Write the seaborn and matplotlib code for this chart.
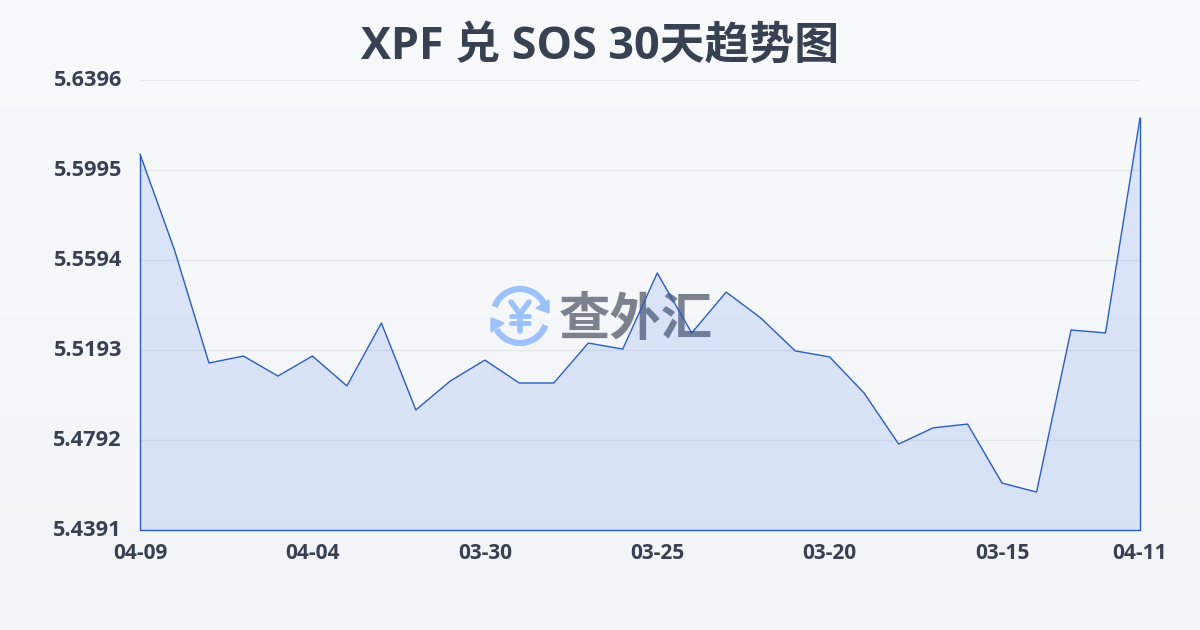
import numpy as np
import pandas as pd
import matplotlib
matplotlib.use("Agg")
import matplotlib.pyplot as plt
from matplotlib.patches import Arc, Polygon
from matplotlib.transforms import ScaledTranslation
import seaborn as sns

title = "XPF 兑 SOS 30天趋势图"
watermark = "查外汇"
day_index = list(range(30))
rates = [5.6066, 5.5639, 5.5135, 5.5166, 5.5077, 5.5166, 5.5033, 5.5313, 5.4926, 5.5055,
         5.5148, 5.5046, 5.5046, 5.5224, 5.5197, 5.5536, 5.5269, 5.5451, 5.5336, 5.5189,
         5.5162, 5.5001, 5.4774, 5.4846, 5.4863, 5.4600, 5.4560, 5.5282, 5.5269, 5.6227]
x_tick_pos = [0, 5, 10, 15, 20, 25, 29]
x_tick_labels = ["04-09", "04-04", "03-30", "03-25", "03-20", "03-15", "04-11"]
y_ticks = [5.4391, 5.4792, 5.5193, 5.5594, 5.5995, 5.6396]

sns.set_theme(style="white")
FONT = ["Open Sans", "Noto Sans CJK SC", "DejaVu Sans"]
plt.rcParams["font.family"] = FONT
INK = "#374151"
LINE = "#2a5cc4"

W, H = 1200, 630
fig = plt.figure(figsize=(W / 100, H / 100), dpi=100)

bg = fig.add_axes([0, 0, 1, 1], zorder=0)
grad = np.linspace(0, 1, 256).reshape(-1, 1)
top, bot = np.array([0xf8, 0xfa, 0xfc]) / 255, np.array([0xf2, 0xf4, 0xf7]) / 255
bg.imshow(top + (bot - top) * grad[..., None], aspect="auto", extent=[0, 1, 0, 1])
bg.axis("off")

ax = fig.add_axes([140 / W, 1 - 530 / H, 1000 / W, 450 / H], zorder=1)
ax.patch.set_alpha(0)
df = pd.DataFrame({"day": day_index, "rate": rates})

ax.set_xlim(0, 29)
ax.set_ylim(y_ticks[0], y_ticks[-1])
ax.set_yticks(y_ticks)
ax.set_yticklabels([f"{v:.4f}" for v in y_ticks], fontsize=15.7, fontweight="bold", color=INK)
ax.set_xticks(x_tick_pos)
ax.set_xticklabels(x_tick_labels, fontsize=15, fontweight="bold", color=INK)
ax.yaxis.grid(True, color="#e5e7eb", lw=1)
ax.xaxis.grid(False)
ax.set_axisbelow(True)
for s in ax.spines.values():
    s.set_visible(False)
ax.tick_params(axis="y", length=0, pad=13)
ax.tick_params(axis="x", length=7.5, width=1, color="#e5e7eb", pad=2)
ax.set_xlabel("")
ax.set_ylabel("")
up = ScaledTranslation(0, 1.5 / 100, fig.dpi_scale_trans)
for lab in ax.get_yticklabels():
    lab.set_transform(lab.get_transform() + up)

ov = fig.add_axes([0, 0, 1, 1], zorder=2)
ov.set_xlim(0, W)
ov.set_ylim(H, 0)
ov.axis("off")
ov.patch.set_alpha(0)
BLUE = "#9dc1fb"
cx, cy = 520, 316
ov.add_patch(Arc((cx, cy), 54, 54, theta1=200, theta2=335, color=BLUE, lw=4.5))
ov.add_patch(Arc((cx, cy), 54, 54, theta1=20, theta2=150, color=BLUE, lw=4.5))
ov.add_patch(Polygon([(549, 300), (549, 313), (536, 308)], color=BLUE))
ov.add_patch(Polygon([(491, 318), (491, 332), (504, 323)], color=BLUE))
ov.plot([511, 520, 529], [302, 314, 302], color=BLUE, lw=4, solid_capstyle="round")
ov.plot([520, 520], [314, 331], color=BLUE, lw=4, solid_capstyle="round")
ov.plot([511, 529], [316, 316], color=BLUE, lw=3.5, solid_capstyle="round")
ov.plot([511, 529], [323, 323], color=BLUE, lw=3.5, solid_capstyle="round")
ov.text(636, 320, watermark, fontsize=37, fontweight="bold", color="#7c828d", ha="center", va="center",
        family=["Noto Sans CJK SC"])

top_ax = fig.add_axes(ax.get_position(), zorder=3)
top_ax.patch.set_alpha(0)
top_ax.set_xlim(0, 29)
top_ax.set_ylim(y_ticks[0], y_ticks[-1])
top_ax.fill_between(df["day"], df["rate"], y_ticks[0], facecolor="#2563eb", alpha=0.13, lw=0, clip_on=False)
sns.lineplot(data=df, x="day", y="rate", ax=top_ax, color=LINE, lw=1, legend=False, errorbar=None, clip_on=False)
top_ax.plot([0, 0, 29, 29], [rates[0], y_ticks[0], y_ticks[0], rates[-1]], color=LINE, lw=1, clip_on=False)
top_ax.axis("off")

fig.text(600 / W, 1 - 47 / H, title, fontsize=32.3, fontweight="bold", color=INK, ha="center", va="center", family=FONT)
fig.savefig("out.png", dpi=100)
